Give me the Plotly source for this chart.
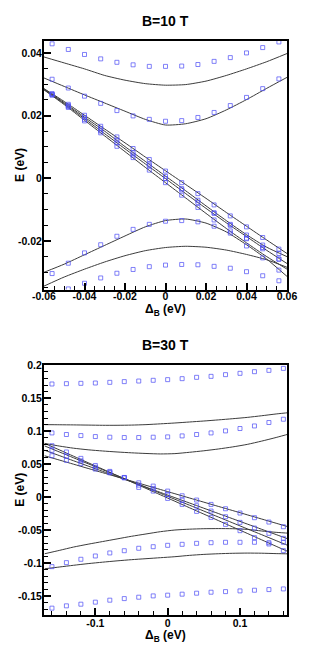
import plotly.graph_objs as go

# ---- B=10 T panel data ----
x_pts_10 = [-0.056, -0.048, -0.040, -0.032, -0.024, -0.016, -0.008, 0.0,
            0.008, 0.016, 0.024, 0.032, 0.040, 0.048, 0.056]
x_line_10 = [-0.06, -0.05, -0.04, -0.03, -0.02, -0.01, 0.0,
             0.01, 0.02, 0.03, 0.04, 0.05, 0.06]

pts_10_a = [0.0429, 0.0411, 0.0395, 0.0381, 0.0370, 0.0362, 0.0357, 0.0357,
            0.0358, 0.0363, 0.0373, 0.0385, 0.0400, 0.0417, 0.0435]
pts_10_b = [0.0316, 0.0288, 0.0262, 0.0239, 0.0216, 0.0199, 0.0188, 0.0182,
            0.0184, 0.0194, 0.0210, 0.0232, 0.0258, 0.0286, 0.0317]
pts_10_d1 = [0.0270, 0.0236, 0.0201, 0.0166, 0.0132, 0.0095, 0.0060, 0.0023,
             -0.0014, -0.0049, -0.0085, -0.0120, -0.0155, -0.0189, -0.0226]
pts_10_d2 = [0.0268, 0.0232, 0.0194, 0.0159, 0.0122, 0.0081, 0.0045, 0.0006,
             -0.0033, -0.0070, -0.0110, -0.0147, -0.0181, -0.0213, -0.0240]
pts_10_d3 = [0.0267, 0.0229, 0.0188, 0.0151, 0.0113, 0.0074, 0.0040, -0.0001,
             -0.0037, -0.0077, -0.0112, -0.0150, -0.0191, -0.0221, -0.0258]
pts_10_d4 = [0.0265, 0.0226, 0.0183, 0.0145, 0.0102, 0.0066, 0.0026, -0.0014,
             -0.0054, -0.0093, -0.0133, -0.0168, -0.0193, -0.0225, -0.0258]
pts_10_c = [-0.0304, -0.0271, -0.0238, -0.0212, -0.0185, -0.0163, -0.0147, -0.0137,
            -0.0135, -0.0139, -0.0153, -0.0175, -0.0216, -0.0254, -0.0293]
pts_10_e = [-0.0375, -0.0353, -0.0335, -0.0318, -0.0303, -0.0291, -0.0282, -0.0277,
            -0.0275, -0.0276, -0.0281, -0.0287, -0.0298, -0.0311, -0.0327]

line_10_1 = [0.0387, 0.0368, 0.0349, 0.0328, 0.0313, 0.0302, 0.0297,
             0.0299, 0.0310, 0.0328, 0.0349, 0.0372, 0.0398]
line_10_2 = [0.0320, 0.0293, 0.0266, 0.0240, 0.0214, 0.0188, 0.0170,
             0.0174, 0.0190, 0.0218, 0.0251, 0.0287, 0.0322]
line_10_3 = [-0.0300, -0.0274, -0.0244, -0.0214, -0.0184, -0.0155, -0.0135,
             -0.0130, -0.0143, -0.0171, -0.0212, -0.0258, -0.0313]
line_10_4 = [-0.0344, -0.0315, -0.0290, -0.0267, -0.0247, -0.0231, -0.0221,
             -0.0217, -0.0220, -0.0229, -0.0243, -0.0260, -0.0284]
line_10_d1 = [0.0286, 0.0245, 0.0201, 0.0157, 0.0113, 0.0068, 0.0024,
              -0.0020, -0.0064, -0.0109, -0.0153, -0.0197, -0.0240]
line_10_d2 = [0.0285, 0.0241, 0.0195, 0.0150, 0.0101, 0.0054, 0.0007,
              -0.0040, -0.0088, -0.0135, -0.0180, -0.0220, -0.0250]
line_10_d3 = [0.0283, 0.0238, 0.0190, 0.0142, 0.0094, 0.0046, -0.0001,
              -0.0049, -0.0096, -0.0142, -0.0186, -0.0230, -0.0272]
line_10_d4 = [0.0282, 0.0235, 0.0185, 0.0135, 0.0085, 0.0035, -0.0014,
              -0.0063, -0.0112, -0.0160, -0.0206, -0.0250, -0.0290]

# ---- B=30 T panel data ----
x_pts_30 = [-0.16, -0.14, -0.12, -0.10, -0.08, -0.06, -0.04, -0.02, 0.0,
            0.02, 0.04, 0.06, 0.08, 0.10, 0.12, 0.14, 0.16]
x_line_30 = [-0.17, -0.15, -0.13, -0.11, -0.09, -0.07, -0.05, -0.03, -0.01,
             0.01, 0.03, 0.05, 0.07, 0.09, 0.11, 0.13, 0.15, 0.17]

pts_30_a = [0.1717, 0.1722, 0.1727, 0.1732, 0.1742, 0.1753, 0.1762, 0.1773, 0.1783,
            0.1798, 0.1818, 0.1833, 0.1859, 0.1879, 0.1904, 0.1924, 0.1954]
pts_30_b = [0.0974, 0.0950, 0.0934, 0.0919, 0.0909, 0.0904, 0.0904, 0.0909, 0.0914,
            0.0929, 0.0950, 0.0974, 0.1005, 0.1041, 0.1080, 0.1132, 0.1182]
pts_30_d1 = [0.0628, 0.0558, 0.0508, 0.0425, 0.0368, 0.0293, 0.0217, 0.0167, 0.0091,
             0.0020, -0.0045, -0.0111, -0.0177, -0.0242, -0.0313, -0.0379, -0.0450]
pts_30_d2 = [0.0710, 0.0621, 0.0550, 0.0453, 0.0378, 0.0295, 0.0182, 0.0131, 0.0040,
             -0.0045, -0.0131, -0.0212, -0.0298, -0.0384, -0.0470, -0.0550, -0.0626]
pts_30_d3 = [0.0780, 0.0685, 0.0588, 0.0480, 0.0390, 0.0298, 0.0147, 0.0091, -0.0020,
             -0.0111, -0.0217, -0.0308, -0.0414, -0.0510, -0.0616, -0.0712, -0.0813]
pts_30_c = [-0.1056, -0.0995, -0.0944, -0.0894, -0.0848, -0.0814, -0.0777, -0.0753, -0.0732,
            -0.0717, -0.0702, -0.0692, -0.0686, -0.0686, -0.0686, -0.0692, -0.0686]
pts_30_e = [-0.1686, -0.1651, -0.1626, -0.1595, -0.1565, -0.1541, -0.1520, -0.1500, -0.1489,
            -0.1474, -0.1459, -0.1444, -0.1435, -0.1424, -0.1414, -0.1404, -0.1394]

line_30_1 = [0.1100, 0.1098, 0.1096, 0.1093, 0.1090, 0.1090, 0.1093, 0.1100, 0.1112,
             0.1125, 0.1140, 0.1155, 0.1172, 0.1190, 0.1210, 0.1235, 0.1262, 0.1285]
line_30_2 = [0.0815, 0.0775, 0.0742, 0.0718, 0.0700, 0.0685, 0.0672, 0.0662, 0.0655,
             0.0660, 0.0680, 0.0703, 0.0730, 0.0762, 0.0800, 0.0850, 0.0905, 0.0965]
line_30_3 = [-0.0860, -0.0810, -0.0758, -0.0715, -0.0675, -0.0635, -0.0595, -0.0560, -0.0525,
             -0.0500, -0.0487, -0.0480, -0.0478, -0.0480, -0.0490, -0.0515, -0.0535, -0.0550]
line_30_4 = [-0.1088, -0.1062, -0.1035, -0.1010, -0.0988, -0.0968, -0.0950, -0.0935, -0.0920,
             -0.0905, -0.0885, -0.0870, -0.0860, -0.0853, -0.0850, -0.0852, -0.0858, -0.0862]
line_30_d1 = [0.0815, 0.0718, 0.0620, 0.0522, 0.0425, 0.0327, 0.0230, 0.0132, 0.0034,
              -0.0063, -0.0161, -0.0258, -0.0356, -0.0454, -0.0551, -0.0649, -0.0747, -0.0844]
line_30_d2 = [0.0776, 0.0686, 0.0596, 0.0506, 0.0416, 0.0327, 0.0237, 0.0147, 0.0057,
              -0.0033, -0.0122, -0.0212, -0.0302, -0.0392, -0.0482, -0.0571, -0.0661, -0.0751]
line_30_d3 = [0.0711, 0.0631, 0.0551, 0.0471, 0.0391, 0.0311, 0.0231, 0.0151, 0.0071,
              -0.0009, -0.0089, -0.0169, -0.0249, -0.0329, -0.0409, -0.0489, -0.0569, -0.0649]
line_30_d4 = [0.0627, 0.0563, 0.0499, 0.0435, 0.0371, 0.0307, 0.0243, 0.0179, 0.0115,
              0.0051, -0.0013, -0.0077, -0.0141, -0.0205, -0.0269, -0.0333, -0.0397, -0.0461]

# tick labels
xtick_10 = [-0.06, -0.04, -0.02, 0, 0.02, 0.04, 0.06]
xtext_10 = ["-0.06", "-0.04", "-0.02", "0", "0.02", "0.04", "0.06"]
ytick_10 = [-0.02, 0, 0.02, 0.04]
ytext_10 = ["-0.02", "0", "0.02", "0.04"]
xtick_30 = [-0.1, 0, 0.1]
xtext_30 = ["-0.1", "0", "0.1"]
ytick_30 = [-0.15, -0.1, -0.05, 0, 0.05, 0.1, 0.15, 0.2]
ytext_30 = ["-0.15", "-0.1", "-0.05", "0", "0.05", "0.1", "0.15", "0.2"]

FONT = "Liberation Sans, Arial, sans-serif"
LINE_COLOR = "#3c3c3c"
MARK_COLOR = "rgba(80, 80, 245, 0.8)"

fig = go.Figure()


def add_panel(fig, xa, ya, x_line, lines, x_pts, pts):
    for y in lines:
        fig.add_trace(go.Scatter(
            x=x_line, y=y, xaxis=xa, yaxis=ya, mode="lines",
            line=dict(color=LINE_COLOR, width=1, shape="spline", smoothing=0.6),
            hoverinfo="skip",
        ))
    for y in pts:
        fig.add_trace(go.Scatter(
            x=x_pts, y=y, xaxis=xa, yaxis=ya, mode="markers",
            marker=dict(symbol="square-open", size=4, color=MARK_COLOR,
                        line=dict(width=0.9, color=MARK_COLOR)),
            cliponaxis=True,
        ))


add_panel(fig, "x", "y", x_line_10,
          [line_10_1, line_10_2, line_10_3, line_10_4,
           line_10_d1, line_10_d2, line_10_d3, line_10_d4],
          x_pts_10,
          [pts_10_a, pts_10_b, pts_10_d1, pts_10_d2, pts_10_d3, pts_10_d4,
           pts_10_c, pts_10_e])

add_panel(fig, "x2", "y2", x_line_30,
          [line_30_1, line_30_2, line_30_3, line_30_4,
           line_30_d1, line_30_d2, line_30_d3, line_30_d4],
          x_pts_30,
          [pts_30_a, pts_30_b, pts_30_d1, pts_30_d2, pts_30_d3, pts_30_c, pts_30_e])

tickfont = dict(family=FONT, size=10.5, color="black", weight="bold")


def axis_style(rng, tv, tt, minor_dtick, anchor, domain=None, standoff=0):
    ax = dict(
        range=rng, tickmode="array", tickvals=tv, ticktext=tt,
        ticks="inside", ticklen=7, tickwidth=1.5, tickcolor="black",
        minor=dict(ticks="inside", ticklen=4, tickwidth=1, tickcolor="black",
                   dtick=minor_dtick, tick0=0),
        showline=True, linecolor="black", linewidth=2, mirror=True,
        showgrid=False, zeroline=False, tickfont=tickfont, anchor=anchor,
        ticklabelstandoff=standoff,
    )
    if domain is not None:
        ax["domain"] = domain
    return ax


fig.update_layout(
    width=328, height=653,
    margin=dict(l=44, r=41, t=41, b=38),
    showlegend=False,
    plot_bgcolor="white", paper_bgcolor="white",
    font=dict(family=FONT, color="black"),
    xaxis=axis_style([-0.06, 0.06], xtick_10, xtext_10, 0.005, "y", standoff=-4),
    yaxis=axis_style([-0.0355, 0.0438], ytick_10, ytext_10, 0.005, "x", [0.567, 1.0], standoff=-2),
    xaxis2=axis_style([-0.171, 0.165], xtick_30, xtext_30, 0.02, "y2", standoff=-3),
    yaxis2=axis_style([-0.179, 0.2005], ytick_30, ytext_30, 0.01, "x2", [0.0, 0.4355], standoff=-2),
)

# titles and axis labels
bold12 = dict(family=FONT, size=12, color="black", weight="bold")
notes = [
    dict(text="B=10 T", x=0.5, y=1.0355, font=dict(family=FONT, size=14, color="black", weight="bold")),
    dict(text="B=30 T", x=0.5, y=0.4704, font=dict(family=FONT, size=14, color="black", weight="bold")),
    dict(text="E (eV)", x=-0.099, y=0.784, textangle=-90, font=bold12),
    dict(text="E (eV)", x=-0.099, y=0.218, textangle=-90, font=bold12),
    dict(text="Δ<sub>B</sub> (eV)", x=0.5, y=0.532, font=bold12),
    dict(text="Δ<sub>B</sub> (eV)", x=0.5, y=-0.037, font=bold12),
]
for n in notes:
    fig.add_annotation(xref="paper", yref="paper", showarrow=False,
                       xanchor="center", yanchor="middle", **n)

# drop the page's default body margin so the figure sits at the window origin
fig.write_html("out.html", config={"displayModeBar": False},
               post_script="document.body.style.margin='0';")
